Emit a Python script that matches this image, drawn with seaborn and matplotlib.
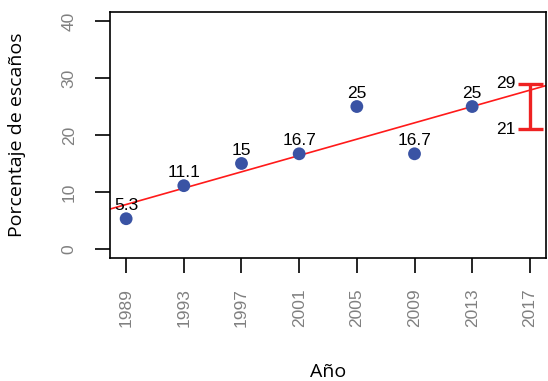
import matplotlib
matplotlib.use("Agg")
import matplotlib.pyplot as plt
import seaborn as sns
import pandas as pd
import numpy as np

# Seat share by election year
years = [1989, 1993, 1997, 2001, 2005, 2009, 2013]
seats = [5.3, 11.1, 15, 16.7, 25, 16.7, 25]
point_labels = ["5.3", "11.1", "15", "16.7", "25", "16.7", "25"]

# Projected range for the next election
proj_year = 2017
proj_low = 21
proj_high = 29

xticks = [1989, 1993, 1997, 2001, 2005, 2009, 2013, 2017]
yticks = [0, 10, 20, 30, 40]

df = pd.DataFrame({"Año": years, "Escaños": seats})

sns.set_style("white")
plt.rcParams["font.family"] = ["Liberation Sans", "DejaVu Sans"]

fig = plt.figure(figsize=(5.48, 3.81), dpi=100)
ax = fig.add_axes([110 / 548, 1 - 258 / 381, 436 / 548, 246 / 381])

xlim = (1989 - 0.04 * 28, 2017 + 0.04 * 28)
ylim = (-0.04 * 40, 40 + 0.04 * 40)
ax.set_xlim(xlim)
ax.set_ylim(ylim)

# Linear trend across the full x range
sns.regplot(data=df, x="Año", y="Escaños", ax=ax, scatter=False, ci=None,
            truncate=False, line_kws={"color": "#ff1a1a", "lw": 1.2, "zorder": 2})

sns.scatterplot(data=df, x="Año", y="Escaños", ax=ax, color="#3a53a4",
                s=85, edgecolor="none", zorder=3, legend=False)

for x, y, lab in zip(years, seats, point_labels):
    ax.annotate(lab, (x, y), xytext=(0, 4), textcoords="offset points",
                ha="center", va="bottom", fontsize=12.5, color="black", zorder=4)

# Projection interval
mid = (proj_low + proj_high) / 2
ax.errorbar([proj_year], [mid], yerr=[[mid - proj_low], [proj_high - mid]],
            fmt="none", ecolor="#ee2222", elinewidth=2.4, capsize=9, capthick=2.4,
            zorder=3)
for v in (proj_high, proj_low):
    ax.annotate(str(v), (proj_year, v), xytext=(-10, 0), textcoords="offset points",
                ha="right", va="center", fontsize=12.5, color="black")

ax.set_xlim(xlim)
ax.set_ylim(ylim)

ax.set_xticks(xticks)
ax.set_xticklabels([str(t) for t in xticks], rotation=90, color="#808080", fontsize=12.5)
ax.set_yticks(yticks)
ax.set_yticklabels([str(t) for t in yticks], rotation=90, color="#808080", fontsize=12.5,
                   va="center")
ax.tick_params(axis="both", direction="out", length=11, width=1.2, color="black",
               bottom=True, left=True)
ax.tick_params(axis="x", pad=11)
ax.tick_params(axis="y", pad=13)

for s in ax.spines.values():
    s.set_visible(True)
    s.set_color("black")
    s.set_linewidth(1.2)

ax.set_xlabel("Año", fontsize=14, family=["Open Sans", "DejaVu Sans"], color="black",
              va="center")
ax.set_ylabel("Porcentaje de escaños", fontsize=14, family=["Open Sans", "DejaVu Sans"],
              color="black", va="center")
ax.xaxis.set_label_coords(0.5, (258 - 372) / 246)
ax.yaxis.set_label_coords((17 - 110) / 436, 0.5)

fig.savefig("out.png", dpi=100)
